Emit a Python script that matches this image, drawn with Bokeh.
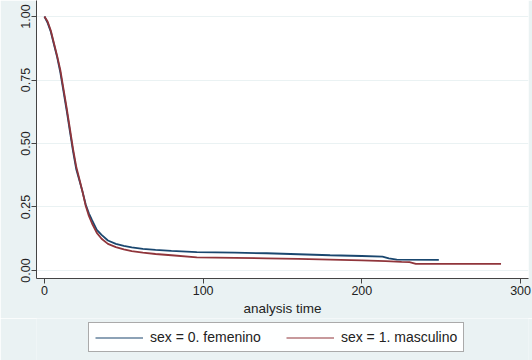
from bokeh.plotting import figure
from bokeh.models import FixedTicker, Legend, LegendItem, Range1d
from bokeh.layouts import column
from bokeh.embed import file_html
from bokeh.resources import INLINE

# Kaplan-Meier survival estimates by sex
t_fem = [0, 2, 4, 6, 8, 10, 12, 14, 16, 18, 20, 22, 24, 26, 28, 30, 33, 36, 40, 45,
         50, 55, 62, 70, 80, 96, 120, 140, 160, 180, 200, 213, 217, 222, 248.5]
s_fem = [1.0, 0.975, 0.94, 0.89, 0.84, 0.78, 0.705, 0.63, 0.55, 0.47, 0.40, 0.355, 0.31,
         0.26, 0.225, 0.198, 0.16, 0.14, 0.118, 0.105, 0.097, 0.091, 0.085, 0.081, 0.077,
         0.072, 0.070, 0.068, 0.064, 0.060, 0.057, 0.055, 0.048, 0.043, 0.042]

t_mas = [0, 2, 4, 6, 8, 10, 12, 14, 16, 18, 20, 22, 24, 26, 28, 30, 33, 36, 40, 45,
         50, 55, 62, 70, 80, 96, 120, 140, 160, 180, 200, 215, 225, 230, 234, 287.7]
s_mas = [1.0, 0.98, 0.945, 0.895, 0.845, 0.79, 0.715, 0.64, 0.56, 0.48, 0.41, 0.36, 0.31,
         0.255, 0.215, 0.185, 0.148, 0.125, 0.105, 0.092, 0.083, 0.076, 0.070, 0.065, 0.060,
         0.052, 0.050, 0.048, 0.046, 0.043, 0.040, 0.037, 0.034, 0.033, 0.026, 0.026]

x_ticks = [0, 100, 200, 300]
y_ticks = [0.0, 0.25, 0.5, 0.75, 1.0]
y_labels = {0.0: "0.00", 0.25: "0.25", 0.5: "0.50", 0.75: "0.75", 1.0: "1.00"}

labels = ["sex = 0. femenino", "sex = 1. masculino"]
colors = ["#1a476f", "#90353b"]

BG = "#EAF2F3"
FONT = "Liberation Sans"
TEXT = "#222222"

# ---- main survival plot ----
p = figure(width=532, height=318, output_backend="svg", toolbar_location=None,
           x_range=Range1d(-5, 305), y_range=Range1d(-0.0315, 1.063))
p.min_border_left = 36
p.min_border_right = 4
p.min_border_top = 0
p.min_border_bottom = 40
p.border_fill_color = BG
p.background_fill_color = "white"
p.outline_line_color = None

p.line(t_fem, s_fem, line_color=colors[0], line_width=1.8)
p.line(t_mas, s_mas, line_color=colors[1], line_width=1.8)

for ax in (p.xaxis[0], p.yaxis[0]):
    ax.axis_line_color = "#444444"
    ax.major_tick_line_color = "#444444"
    ax.major_tick_out = 5
    ax.major_tick_in = 0
    ax.minor_tick_line_color = None
    ax.major_label_text_font = FONT
    ax.major_label_text_font_size = "12.5px"
    ax.major_label_text_color = TEXT

p.xaxis.ticker = FixedTicker(ticks=x_ticks)
p.xaxis.axis_label = "analysis time"
p.xaxis.axis_label_text_font = FONT
p.xaxis.axis_label_text_font_size = "13.5px"
p.xaxis.axis_label_text_font_style = "normal"
p.xaxis.axis_label_text_color = TEXT
p.xaxis.axis_label_standoff = 3
p.xaxis.major_label_standoff = 2

p.yaxis.ticker = FixedTicker(ticks=y_ticks)
p.yaxis.major_label_overrides = y_labels
p.yaxis.major_label_orientation = "vertical"
p.yaxis.major_label_standoff = 1

p.xgrid.grid_line_color = None
p.ygrid.ticker = FixedTicker(ticks=y_ticks)
p.ygrid.grid_line_color = BG
p.ygrid.grid_line_width = 1

# ---- legend strip underneath ----
lg = figure(width=532, height=42, output_backend="svg", toolbar_location=None,
            x_axis_type=None, y_axis_type=None,
            x_range=Range1d(0, 1), y_range=Range1d(0, 1))
lg.min_border = 0
lg.border_fill_color = BG
lg.background_fill_color = BG
lg.outline_line_color = None
lg.grid.grid_line_color = None
# key swatches: lines kept outside the visible range so only the legend shows them
k1 = lg.line(x=[-3, -2], y=[-3, -2], line_color=colors[0], line_width=1.2)
k2 = lg.line(x=[-3, -2], y=[-3, -2], line_color=colors[1], line_width=1.2)

legend = Legend(items=[LegendItem(label=labels[0], renderers=[k1]),
                       LegendItem(label=labels[1], renderers=[k2])],
                orientation="horizontal", location=(52, 8))
legend.glyph_width = 48
legend.glyph_height = 13
legend.label_height = 13
legend.label_standoff = 7
legend.spacing = 25
legend.padding = 6
legend.margin = 0
legend.border_line_color = "#555555"
legend.border_line_width = 1
legend.background_fill_color = "white"
legend.label_text_font = FONT
legend.label_text_font_size = "14px"
legend.label_text_color = TEXT
lg.add_layout(legend, "center")

open("out.html", "w").write(file_html(column(p, lg), INLINE))
